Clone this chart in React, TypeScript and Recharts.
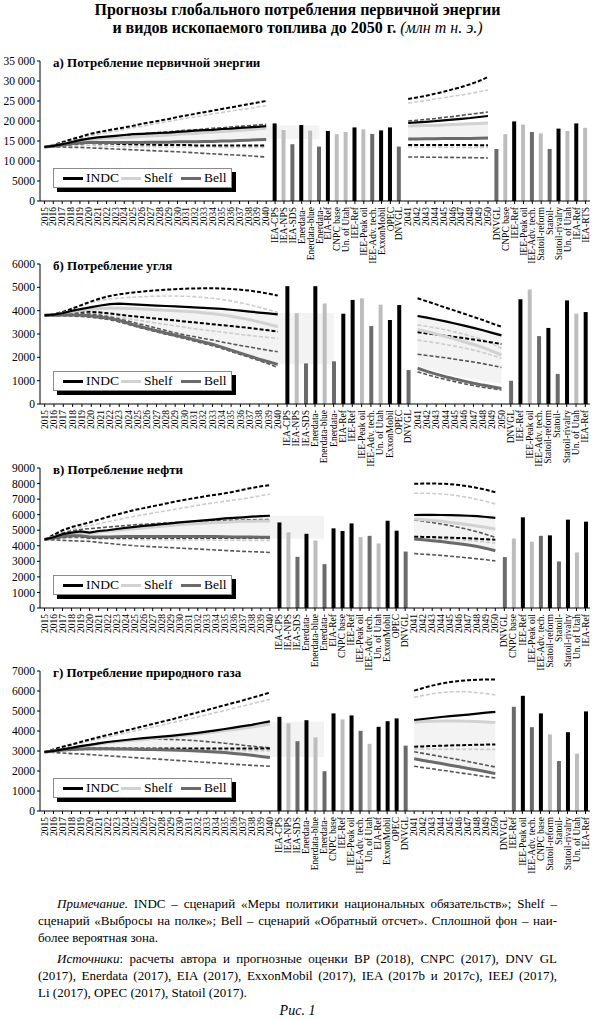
import React from 'react';
import { ComposedChart, XAxis, YAxis, Line, Bar, Area, Cell } from 'recharts';

// Forecasts of global primary energy and fossil fuel consumption to 2050 (Mtoe)

const FONT = '"Liberation Serif", "Times New Roman", serif';

const YEARS_1 = [2015, 2016, 2017, 2018, 2019, 2020, 2021, 2022, 2023, 2024, 2025, 2026, 2027,
  2028, 2029, 2030, 2031, 2032, 2033, 2034, 2035, 2036, 2037, 2038, 2039, 2040];
const YEARS_2 = [2041, 2042, 2043, 2044, 2045, 2046, 2047, 2048, 2049, 2050];

// series values: 2015..2040 then 2041..2050 (36 values each)
// а) primary energy
const A_INDC = [13500, 13800, 14200, 14700, 15200, 15600, 15900, 16100, 16300, 16500, 16700, 16800, 16900, 17000, 17100, 17300, 17400, 17600, 17700, 17800, 18000, 18100, 18300, 18400, 18550, 18700, 19500, 19650, 19800, 19950, 20150, 20350, 20550, 20750, 21000, 21250];
const A_INDC_HI = [13500, 14000, 14700, 15400, 16000, 16700, 17200, 17600, 18000, 18400, 18800, 19300, 19700, 20100, 20500, 21000, 21400, 21800, 22200, 22600, 23000, 23400, 23800, 24200, 24600, 25000, 25500, 25900, 26300, 26800, 27300, 27900, 28500, 29200, 30000, 31000];
const A_INDC_LO = [13500, 13700, 14000, 14200, 14400, 14500, 14400, 14400, 14300, 14200, 14200, 14100, 14100, 14000, 14000, 14000, 14000, 13900, 13900, 13900, 13900, 13900, 13900, 13850, 13850, 13850, 14000, 14000, 14000, 14000, 14000, 14000, 14000, 14000, 13950, 13950];
const A_SHELF = [13500, 13800, 14200, 14600, 15000, 15300, 15500, 15700, 15800, 15900, 16000, 16200, 16300, 16400, 16500, 16700, 16800, 16900, 17100, 17200, 17400, 17500, 17700, 17800, 18000, 18200, 18750, 18800, 18850, 18900, 19000, 19100, 19200, 19300, 19400, 19500];
const A_SHELF_HI = [13500, 13900, 14500, 15100, 15700, 16300, 16700, 17100, 17500, 17900, 18300, 18700, 19100, 19500, 19900, 20300, 20700, 21000, 21400, 21800, 22100, 22500, 22800, 23100, 23500, 23800, 24500, 24800, 25100, 25500, 25800, 26200, 26500, 26900, 27300, 27750];
const A_SHELF_LO = [13500, 13600, 13800, 13900, 14000, 13900, 13800, 13700, 13700, 13600, 13600, 13600, 13600, 13500, 13500, 13500, 13500, 13500, 13500, 13500, 13400, 13400, 13400, 13400, 13400, 13400, 13500, 13500, 13500, 13500, 13450, 13450, 13450, 13400, 13400, 13400];
const A_BELL = [13500, 13700, 14000, 14300, 14500, 14600, 14600, 14600, 14600, 14600, 14600, 14600, 14700, 14700, 14700, 14800, 14800, 14800, 14900, 14900, 15000, 15000, 15100, 15200, 15300, 15400, 15500, 15500, 15550, 15550, 15600, 15600, 15650, 15650, 15700, 15750];
const A_BELL_HI = [13500, 13900, 14400, 14900, 15300, 15600, 15800, 16000, 16200, 16400, 16600, 16800, 17000, 17200, 17300, 17500, 17700, 17800, 18000, 18200, 18300, 18500, 18700, 18800, 19000, 19200, 20000, 20200, 20400, 20600, 20900, 21100, 21400, 21700, 21950, 22250];
const A_BELL_LO = [13500, 13500, 13500, 13400, 13400, 13300, 13200, 13100, 13000, 12900, 12800, 12700, 12600, 12500, 12400, 12300, 12200, 12050, 11900, 11800, 11650, 11550, 11450, 11300, 11150, 11000, 11000, 11000, 10950, 10950, 10900, 10900, 10850, 10850, 10800, 10750];
const A_ZONE_LO = [13500, 13600, 13900, 14100, 14300, 14400, 14500, 14600, 14600, 14700, 14700, 14800, 14800, 14900, 14900, 15000, 15000, 15100, 15100, 15200, 15200, 15300, 15300, 15400, 15400, 15500, 15300, 15300, 15300, 15300, 15300, 15300, 15300, 15300, 15300, 15300];
const A_ZONE_HI = [13500, 13800, 14200, 14700, 15200, 15600, 15900, 16100, 16300, 16500, 16700, 16800, 16900, 17000, 17100, 17300, 17400, 17600, 17700, 17800, 18000, 18100, 18300, 18500, 18700, 18900, 19000, 19100, 19200, 19300, 19400, 19500, 19600, 19700, 19800, 19900];
const A_BARS_1 = ['IEA-CPS', 'IEA-NPS', 'IEA-SDS', 'Enerdata-', 'Enerdata-blue', 'Enerdata-', 'EIA-Ref', 'CNPC base', 'Un. of Utah', 'IEE-Ref', 'IEE-Peak oil', 'IEE-Adv. tech.', 'ExxonMobil', 'OPEC', 'DNVGL'];
const A_VALS_1 = [19400, 17750, 14200, 19000, 17600, 13600, 17500, 16700, 17250, 18400, 17900, 16750, 17650, 18400, 13600];
const A_KINDS_1 = ['I', 'S', 'B', 'I', 'S', 'B', 'I', 'S', 'S', 'I', 'S', 'B', 'I', 'I', 'B'];
const A_BARS_2 = ['DNVGL', 'CNPC base', 'IEE-Ref', 'IEE-Peak oil', 'IEE-Adv. tech.', 'Statoil-reform', 'Statoil-', 'Statoil-rivalry', 'Un. of Utah', 'IEA-Ref', 'IEA-RTS'];
const A_VALS_2 = [13000, 16700, 19900, 19100, 17250, 16900, 13000, 18100, 17500, 19400, 18300];
const A_KINDS_2 = ['B', 'S', 'I', 'S', 'B', 'S', 'B', 'I', 'S', 'I', 'S'];

// б) coal
const B_INDC = [3800, 3830, 3900, 4000, 4080, 4150, 4220, 4280, 4300, 4280, 4260, 4240, 4220, 4200, 4180, 4160, 4140, 4120, 4100, 4080, 4040, 4000, 3960, 3920, 3880, 3840, 3770, 3700, 3620, 3540, 3450, 3360, 3260, 3160, 3050, 2940];
const B_INDC_HI = [3800, 3850, 3950, 4100, 4250, 4400, 4530, 4630, 4700, 4760, 4800, 4840, 4870, 4900, 4920, 4940, 4950, 4960, 4960, 4950, 4930, 4900, 4860, 4800, 4730, 4650, 4530, 4400, 4270, 4130, 4000, 3870, 3730, 3600, 3450, 3310];
const B_INDC_LO = [3800, 3850, 3900, 3950, 3960, 3950, 3920, 3880, 3830, 3780, 3740, 3700, 3660, 3620, 3580, 3540, 3500, 3460, 3420, 3380, 3340, 3300, 3260, 3210, 3160, 3100, 3070, 3020, 2970, 2920, 2870, 2820, 2760, 2700, 2640, 2570];
const B_SHELF = [3800, 3830, 3890, 3960, 4020, 4060, 4090, 4100, 4100, 4090, 4080, 4060, 4040, 4020, 4000, 3980, 3950, 3910, 3870, 3820, 3760, 3690, 3610, 3520, 3420, 3310, 3200, 3100, 3000, 2890, 2780, 2670, 2550, 2430, 2270, 2100];
const B_SHELF_HI = [3800, 3850, 3950, 4080, 4220, 4350, 4450, 4500, 4540, 4570, 4590, 4610, 4620, 4630, 4630, 4620, 4600, 4570, 4530, 4480, 4420, 4340, 4250, 4150, 4040, 3920, 3390, 3330, 3260, 3180, 3090, 2990, 2880, 2760, 2580, 2390];
const B_SHELF_LO = [3800, 3820, 3850, 3870, 3880, 3860, 3820, 3770, 3710, 3650, 3590, 3530, 3470, 3410, 3350, 3290, 3230, 3180, 3130, 3080, 3030, 2980, 2940, 2890, 2850, 2810, 2740, 2680, 2620, 2550, 2480, 2400, 2310, 2210, 2090, 1960];
const B_BELL = [3800, 3800, 3810, 3810, 3800, 3770, 3720, 3670, 3580, 3460, 3340, 3240, 3140, 3040, 2950, 2860, 2760, 2660, 2560, 2440, 2310, 2180, 2050, 1920, 1810, 1700, 1530, 1400, 1280, 1170, 1070, 980, 890, 810, 740, 670];
const B_BELL_HI = [3800, 3820, 3850, 3870, 3870, 3850, 3800, 3730, 3640, 3550, 3450, 3350, 3250, 3150, 3050, 2960, 2890, 2810, 2740, 2660, 2580, 2510, 2440, 2370, 2300, 2240, 2130, 2080, 2030, 1980, 1920, 1860, 1800, 1730, 1650, 1570];
const B_BELL_LO = [3800, 3790, 3780, 3770, 3750, 3720, 3670, 3610, 3520, 3410, 3290, 3190, 3090, 2990, 2900, 2800, 2700, 2600, 2500, 2380, 2250, 2120, 1990, 1860, 1720, 1570, 1380, 1260, 1150, 1050, 960, 870, 790, 720, 660, 600];
const B_ZONE_LO = [3800, 3800, 3800, 3800, 3800, 3770, 3720, 3670, 3580, 3460, 3340, 3240, 3140, 3040, 2950, 2860, 2760, 2660, 2560, 2440, 2310, 2180, 2050, 1920, 1810, 1700, 1650, 1520, 1400, 1300, 1200, 1120, 1050, 980, 920, 870];
const B_ZONE_HI = [3800, 3830, 3900, 4000, 4080, 4150, 4200, 4220, 4200, 4180, 4160, 4140, 4120, 4100, 4080, 4060, 4040, 4020, 4000, 3980, 3960, 3940, 3930, 3920, 3910, 3900, 3850, 3780, 3700, 3620, 3530, 3440, 3350, 3250, 3150, 3050];
const B_BARS_1 = ['IEA-CPS', 'IEA-NPS', 'IEA-SDS', 'Enerdata-', 'Enerdata-blue', 'Enerdata-', 'EIA-Ref', 'IEE-Ref', 'IEE-Peak oil', 'IEE-Adv. tech.', 'Un. of Utah', 'ExxonMobil', 'OPEC', 'DNVGL'];
const B_VALS_1 = [5050, 3890, 1740, 5050, 4310, 1830, 3870, 4460, 4530, 3340, 4260, 3600, 4240, 1460];
const B_KINDS_1 = ['I', 'S', 'B', 'I', 'S', 'B', 'I', 'I', 'S', 'B', 'S', 'I', 'I', 'B'];
const B_BARS_2 = ['DNVGL', 'IEE-Ref', 'IEE-Peak oil', 'IEE-Adv. tech.', 'Statoil-reform', 'Statoil-', 'Statoil-rivalry', 'Un. of Utah', 'IEA-Ref'];
const B_VALS_2 = [1000, 4490, 4910, 2910, 3260, 1290, 4440, 3870, 3940];
const B_KINDS_2 = ['B', 'I', 'S', 'B', 'I', 'B', 'I', 'S', 'I'];

// в) oil
const C_INDC = [4400, 4550, 4750, 4850, 4920, 4850, 4950, 5000, 5080, 5150, 5220, 5280, 5330, 5390, 5440, 5500, 5550, 5600, 5650, 5700, 5760, 5800, 5830, 5870, 5900, 5930, 5980, 5990, 5990, 5980, 5970, 5950, 5930, 5900, 5850, 5790];
const C_INDC_HI = [4400, 4700, 5000, 5200, 5350, 5500, 5680, 5850, 6000, 6150, 6300, 6420, 6540, 6660, 6780, 6900, 7000, 7100, 7200, 7280, 7370, 7480, 7600, 7720, 7820, 7900, 7980, 8000, 8000, 7990, 7960, 7900, 7820, 7720, 7600, 7440];
const C_INDC_LO = [4400, 4480, 4550, 4600, 4600, 4520, 4510, 4510, 4510, 4510, 4510, 4520, 4520, 4520, 4520, 4520, 4520, 4520, 4520, 4520, 4520, 4520, 4520, 4520, 4520, 4520, 4580, 4570, 4560, 4540, 4520, 4500, 4480, 4450, 4420, 4390];
const C_SHELF = [4400, 4550, 4700, 4800, 4850, 4800, 4880, 4950, 5000, 5050, 5100, 5150, 5200, 5250, 5300, 5350, 5400, 5430, 5460, 5500, 5520, 5550, 5570, 5580, 5590, 5600, 5720, 5680, 5630, 5570, 5500, 5430, 5350, 5270, 5180, 5080];
const C_SHELF_HI = [4400, 4650, 4900, 5050, 5200, 5300, 5420, 5540, 5660, 5780, 5900, 6000, 6100, 6200, 6300, 6400, 6500, 6600, 6700, 6780, 6860, 6940, 7020, 7120, 7220, 7330, 7380, 7380, 7360, 7330, 7280, 7200, 7100, 6980, 6850, 6690];
const C_SHELF_LO = [4400, 4450, 4480, 4500, 4480, 4450, 4430, 4420, 4410, 4400, 4400, 4390, 4390, 4380, 4380, 4380, 4370, 4370, 4370, 4360, 4360, 4360, 4350, 4350, 4350, 4350, 4500, 4480, 4460, 4440, 4410, 4380, 4340, 4300, 4240, 4180];
const C_BELL = [4400, 4500, 4600, 4650, 4650, 4560, 4560, 4570, 4580, 4590, 4600, 4600, 4600, 4600, 4600, 4600, 4600, 4600, 4600, 4590, 4580, 4570, 4560, 4560, 4550, 4550, 4430, 4380, 4330, 4270, 4200, 4130, 4050, 3950, 3830, 3680];
const C_BELL_HI = [4400, 4600, 4800, 4950, 5050, 5100, 5150, 5200, 5250, 5300, 5350, 5380, 5420, 5450, 5480, 5510, 5540, 5560, 5590, 5610, 5630, 5650, 5660, 5670, 5680, 5690, 5660, 5580, 5500, 5400, 5300, 5180, 5050, 4900, 4730, 4540];
const C_BELL_LO = [4400, 4380, 4350, 4320, 4300, 4280, 4220, 4160, 4100, 4050, 4000, 3970, 3940, 3910, 3880, 3850, 3820, 3790, 3760, 3730, 3700, 3670, 3640, 3620, 3600, 3570, 3500, 3460, 3420, 3380, 3330, 3280, 3220, 3160, 3100, 3030];
const C_ZONE_LO = [4400, 4450, 4500, 4550, 4550, 4500, 4500, 4500, 4500, 4500, 4500, 4500, 4500, 4500, 4500, 4500, 4500, 4500, 4500, 4480, 4470, 4460, 4450, 4450, 4450, 4450, 4380, 4330, 4280, 4220, 4150, 4080, 4000, 3900, 3800, 3680];
const C_ZONE_HI = [4400, 4550, 4750, 4850, 4920, 4900, 4980, 5040, 5100, 5170, 5240, 5300, 5350, 5400, 5460, 5520, 5570, 5620, 5670, 5720, 5770, 5810, 5840, 5880, 5910, 5930, 5980, 5990, 5990, 5980, 5970, 5950, 5930, 5900, 5850, 5790];
const C_BARS_1 = ['IEA-CPS', 'IEA-NPS', 'IEA-SDS', 'Enerdata-', 'Enerdata-blue', 'Enerdata-', 'EIA-Ref', 'CNPC base', 'IEE-Ref', 'IEE-Peak oil', 'IEE-Adv. tech.', 'Un. of Utah', 'ExxonMobil', 'OPEC', 'DNVGL'];
const C_VALS_1 = [5500, 4860, 3290, 4770, 4340, 2820, 5120, 4950, 5440, 4560, 4640, 4150, 5610, 4970, 3630];
const C_KINDS_1 = ['I', 'S', 'B', 'I', 'S', 'B', 'I', 'I', 'I', 'S', 'B', 'S', 'I', 'I', 'B'];
const C_BARS_2 = ['DNVGL', 'CNPC base', 'IEE-Ref', 'IEE-Peak oil', 'IEE-Adv. tech.', 'Statoil-reform', 'Statoil-', 'Statoil-rivalry', 'Un. of Utah', 'IEA-Ref'];
const C_VALS_2 = [3270, 4470, 5830, 4260, 4640, 4670, 2990, 5680, 3570, 5550];
const C_KINDS_2 = ['B', 'S', 'I', 'S', 'B', 'I', 'B', 'I', 'S', 'I'];

// г) natural gas
const D_INDC = [2950, 3000, 3080, 3160, 3240, 3310, 3380, 3450, 3500, 3550, 3600, 3640, 3680, 3720, 3760, 3810, 3860, 3910, 3970, 4030, 4100, 4170, 4240, 4310, 4400, 4480, 4550, 4600, 4650, 4700, 4740, 4780, 4820, 4870, 4920, 4960];
const D_INDC_HI = [2950, 3080, 3210, 3330, 3450, 3570, 3690, 3800, 3910, 4020, 4130, 4240, 4350, 4460, 4570, 4690, 4810, 4930, 5050, 5170, 5290, 5410, 5530, 5660, 5790, 5920, 6020, 6150, 6270, 6370, 6450, 6500, 6540, 6560, 6580, 6580];
const D_INDC_LO = [2950, 3000, 3050, 3100, 3120, 3130, 3130, 3130, 3130, 3130, 3130, 3130, 3130, 3130, 3130, 3130, 3130, 3130, 3130, 3130, 3130, 3130, 3130, 3130, 3130, 3130, 3210, 3230, 3250, 3260, 3280, 3290, 3300, 3310, 3320, 3330];
const D_SHELF = [2950, 3000, 3070, 3140, 3210, 3280, 3350, 3410, 3460, 3500, 3540, 3580, 3620, 3660, 3700, 3750, 3800, 3850, 3900, 3960, 4020, 4080, 4140, 4200, 4270, 4350, 4440, 4470, 4490, 4500, 4500, 4500, 4490, 4470, 4450, 4420];
const D_SHELF_HI = [2950, 3060, 3170, 3280, 3390, 3500, 3600, 3700, 3800, 3900, 4000, 4100, 4200, 4300, 4400, 4500, 4600, 4700, 4810, 4920, 5030, 5140, 5250, 5360, 5470, 5590, 5680, 5780, 5860, 5920, 5960, 5970, 5960, 5920, 5870, 5800];
const D_SHELF_LO = [2950, 2980, 3010, 3030, 3040, 3050, 3050, 3050, 3050, 3050, 3050, 3050, 3040, 3040, 3040, 3040, 3040, 3030, 3030, 3030, 3030, 3030, 3020, 3020, 3020, 3020, 3100, 3100, 3100, 3090, 3090, 3090, 3080, 3080, 3080, 3080];
const D_BELL = [2950, 3000, 3050, 3080, 3100, 3110, 3110, 3110, 3100, 3100, 3090, 3080, 3070, 3060, 3050, 3040, 3020, 3000, 2980, 2950, 2920, 2880, 2840, 2790, 2730, 2670, 2610, 2530, 2450, 2370, 2290, 2210, 2130, 2050, 1960, 1870];
const D_BELL_HI = [2950, 3000, 3080, 3160, 3240, 3310, 3380, 3440, 3490, 3530, 3560, 3580, 3590, 3590, 3580, 3560, 3540, 3510, 3470, 3430, 3390, 3340, 3290, 3240, 3200, 3160, 2960, 2880, 2800, 2720, 2640, 2560, 2470, 2380, 2290, 2200];
const D_BELL_LO = [2950, 2930, 2900, 2870, 2850, 2820, 2790, 2760, 2730, 2700, 2670, 2640, 2610, 2580, 2550, 2520, 2490, 2460, 2430, 2400, 2370, 2340, 2310, 2280, 2260, 2240, 2240, 2170, 2110, 2040, 1980, 1910, 1850, 1780, 1720, 1650];
const D_ZONE_LO = [2950, 2990, 3030, 3060, 3080, 3080, 3070, 3060, 3050, 3040, 3020, 3000, 2980, 2960, 2940, 2920, 2900, 2880, 2860, 2840, 2820, 2800, 2780, 2760, 2730, 2700, 2600, 2500, 2420, 2340, 2260, 2180, 2100, 2030, 1950, 1870];
const D_ZONE_HI = [2950, 3000, 3080, 3160, 3240, 3310, 3380, 3450, 3500, 3550, 3600, 3640, 3680, 3720, 3760, 3810, 3860, 3910, 3970, 4030, 4100, 4170, 4240, 4310, 4390, 4460, 4460, 4470, 4480, 4480, 4490, 4490, 4490, 4480, 4470, 4460];
const D_BARS_1 = ['IEA-CPS', 'IEA-NPS', 'IEA-SDS', 'Enerdata-', 'Enerdata-blue', 'Enerdata-', 'CNPC base', 'IEE-Ref', 'IEE-Peak oil', 'IEE-Adv. tech.', 'Un. of Utah', 'EIA-Ref', 'ExxonMobil', 'OPEC', 'DNVGL'];
const D_VALS_1 = [4710, 4380, 3490, 4540, 3680, 1990, 4880, 4580, 4780, 4010, 3360, 4210, 4490, 4630, 3270];
const D_KINDS_1 = ['I', 'S', 'B', 'I', 'S', 'B', 'I', 'S', 'I', 'B', 'S', 'I', 'I', 'I', 'B'];
const D_BARS_2 = ['DNVGL', 'IEE-Ref', 'IEE-Peak oil', 'IEE-Adv. tech.', 'CNPC base', 'Statoil-reform', 'Statoil-', 'Statoil-rivalry', 'Un. of Utah', 'IEA-Ref'];
const D_VALS_2 = [null, 5210, 5760, 4190, 4880, 3830, 2500, 3940, 2870, 4980];
const D_KINDS_2 = ['B', 'B', 'I', 'B', 'I', 'S', 'B', 'I', 'S', 'I'];

// the shaded zone carries on past 2040 behind the first few bars
const ZONE_BAR_SPAN = 6;

type Kind = 'I' | 'S' | 'B';
const BAR_FILL: Record<string, string> = { I: '#000000', S: '#bdbdbd', B: '#6b6b6b' };

const SERIES_KEYS = ['SHELF_LO', 'SHELF_HI', 'BELL_LO', 'BELL_HI', 'INDC_LO', 'INDC_HI', 'SHELF', 'BELL', 'INDC'] as const;
type SeriesKey = (typeof SERIES_KEYS)[number];

const LINE_STYLE: Record<SeriesKey, { stroke: string; width: number; dash?: string }> = {
  SHELF_LO: { stroke: '#cccccc', width: 1.6, dash: '4 2' },
  SHELF_HI: { stroke: '#cccccc', width: 1.6, dash: '4 2' },
  BELL_LO: { stroke: '#555555', width: 1.6, dash: '4 2' },
  BELL_HI: { stroke: '#555555', width: 1.6, dash: '4 2' },
  INDC_LO: { stroke: '#000000', width: 2, dash: '4 2' },
  INDC_HI: { stroke: '#000000', width: 2, dash: '4 2' },
  SHELF: { stroke: '#d2d2d2', width: 3 },
  BELL: { stroke: '#6a6a6a', width: 3 },
  INDC: { stroke: '#000000', width: 2.2 },
};

interface PanelDef {
  title: string;
  top: number;
  yMax: number;
  yTicks: number[];
  series: Record<SeriesKey, number[]>;
  zoneLo: number[];
  zoneHi: number[];
  bars1: string[];
  vals1: (number | null)[];
  kinds1: string[];
  bars2: string[];
  vals2: (number | null)[];
  kinds2: string[];
}

const PANELS: PanelDef[] = [
  {
    title: 'а) Потребление первичной энергии', top: 61, yMax: 35000,
    yTicks: [0, 5000, 10000, 15000, 20000, 25000, 30000, 35000],
    series: { INDC: A_INDC, INDC_HI: A_INDC_HI, INDC_LO: A_INDC_LO, SHELF: A_SHELF, SHELF_HI: A_SHELF_HI, SHELF_LO: A_SHELF_LO, BELL: A_BELL, BELL_HI: A_BELL_HI, BELL_LO: A_BELL_LO },
    zoneLo: A_ZONE_LO, zoneHi: A_ZONE_HI,
    bars1: A_BARS_1, vals1: A_VALS_1, kinds1: A_KINDS_1, bars2: A_BARS_2, vals2: A_VALS_2, kinds2: A_KINDS_2,
  },
  {
    title: 'б) Потребление угля', top: 264, yMax: 6000,
    yTicks: [0, 1000, 2000, 3000, 4000, 5000, 6000],
    series: { INDC: B_INDC, INDC_HI: B_INDC_HI, INDC_LO: B_INDC_LO, SHELF: B_SHELF, SHELF_HI: B_SHELF_HI, SHELF_LO: B_SHELF_LO, BELL: B_BELL, BELL_HI: B_BELL_HI, BELL_LO: B_BELL_LO },
    zoneLo: B_ZONE_LO, zoneHi: B_ZONE_HI,
    bars1: B_BARS_1, vals1: B_VALS_1, kinds1: B_KINDS_1, bars2: B_BARS_2, vals2: B_VALS_2, kinds2: B_KINDS_2,
  },
  {
    title: 'в) Потребление нефти', top: 468, yMax: 9000,
    yTicks: [0, 1000, 2000, 3000, 4000, 5000, 6000, 7000, 8000, 9000],
    series: { INDC: C_INDC, INDC_HI: C_INDC_HI, INDC_LO: C_INDC_LO, SHELF: C_SHELF, SHELF_HI: C_SHELF_HI, SHELF_LO: C_SHELF_LO, BELL: C_BELL, BELL_HI: C_BELL_HI, BELL_LO: C_BELL_LO },
    zoneLo: C_ZONE_LO, zoneHi: C_ZONE_HI,
    bars1: C_BARS_1, vals1: C_VALS_1, kinds1: C_KINDS_1, bars2: C_BARS_2, vals2: C_VALS_2, kinds2: C_KINDS_2,
  },
  {
    title: 'г) Потребление природного газа', top: 671, yMax: 7000,
    yTicks: [0, 1000, 2000, 3000, 4000, 5000, 6000, 7000],
    series: { INDC: D_INDC, INDC_HI: D_INDC_HI, INDC_LO: D_INDC_LO, SHELF: D_SHELF, SHELF_HI: D_SHELF_HI, SHELF_LO: D_SHELF_LO, BELL: D_BELL, BELL_HI: D_BELL_HI, BELL_LO: D_BELL_LO },
    zoneLo: D_ZONE_LO, zoneHi: D_ZONE_HI,
    bars1: D_BARS_1, vals1: D_VALS_1, kinds1: D_KINDS_1, bars2: D_BARS_2, vals2: D_VALS_2, kinds2: D_KINDS_2,
  },
];

const PLOT_H = 140;
const AXIS_H = 70;

function buildRows(p: PanelDef) {
  const rows: any[] = [];
  const yearRow = (y: number, k: number) => {
    const r: any = { label: String(y), bar: null, kind: null, zone: [p.zoneLo[k], p.zoneHi[k]] };
    SERIES_KEYS.forEach((s) => (r[s] = p.series[s][k]));
    return r;
  };
  const last = YEARS_1.length - 1;
  YEARS_1.forEach((y, k) => rows.push(yearRow(y, k)));
  p.bars1.forEach((name, j) =>
    rows.push({
      label: name, bar: p.vals1[j], kind: p.kinds1[j],
      zone: j < ZONE_BAR_SPAN ? [p.zoneLo[last], p.zoneHi[last]] : null,
    })
  );
  YEARS_2.forEach((y, k) => rows.push(yearRow(y, YEARS_1.length + k)));
  p.bars2.forEach((name, j) => rows.push({ label: name, bar: p.vals2[j], kind: p.kinds2[j], zone: null }));
  return rows.map((r, i) => ({ ...r, i }));
}

const fmtTick = (v: number) =>
  v >= 10000 ? `${Math.floor(v / 1000)}\u00a0${String(v % 1000).padStart(3, '0')}` : String(v);

function Legend({ top }: { top: number }) {
  const items = [
    { name: 'INDC', color: '#000000', x: 9 },
    { name: 'Shelf', color: '#d2d2d2', x: 67 },
    { name: 'Bell', color: '#6a6a6a', x: 127 },
  ];
  return (
    <div
      style={{
        position: 'absolute', left: 53, top, width: 177, height: 18,
        border: '1px solid #8a8a8a', background: '#fff', boxShadow: '4px 4px 0 #000',
        fontFamily: FONT, fontSize: 13.5,
      }}
    >
      {items.map((it) => (
        <React.Fragment key={it.name}>
          <span style={{ position: 'absolute', left: it.x, top: 8, width: 20, height: 3, background: it.color }} />
          <span style={{ position: 'absolute', left: it.x + 23, top: 1, lineHeight: '16px' }}>{it.name}</span>
        </React.Fragment>
      ))}
    </div>
  );
}

function Panel({ p }: { p: PanelDef }) {
  const rows = buildRows(p);
  const renderTick = (t: any) => {
    const label = rows[t.payload.value]?.label ?? '';
    const y = t.y + 1;
    return (
      <text
        x={t.x} y={y} transform={`rotate(-90 ${t.x} ${y})`} textAnchor="end" dy="0.33em"
        fontSize={9.5} fontFamily={FONT} fill="#000"
      >
        {label}
      </text>
    );
  };
  return (
    <>
      <div style={{ position: 'absolute', left: 0, top: p.top - 10 }}>
        <ComposedChart width={595} height={10 + PLOT_H + AXIS_H} data={rows} margin={{ top: 10, right: 5, bottom: 0, left: 0 }}>
          <XAxis
            dataKey="i" type="category" interval={0} height={AXIS_H} tickSize={3}
            axisLine={{ stroke: '#000' }} tickLine={{ stroke: '#000' }} tick={renderTick}
          />
          <YAxis
            type="number" domain={[0, p.yMax]} ticks={p.yTicks} interval={0} width={40}
            tickSize={3} tickMargin={2} axisLine={{ stroke: '#000' }} tickLine={{ stroke: '#000' }}
            tickFormatter={fmtTick} tick={{ fill: '#000', fontSize: 11.5, fontFamily: FONT }}
          />
          <Area
            dataKey="zone" type="linear" stroke="none" fill="#f3f3f3" fillOpacity={1}
            connectNulls={false} isAnimationActive={false} activeDot={false}
          />
          <Bar dataKey="bar" barSize={4} isAnimationActive={false}>
            {rows.map((r) => (
              <Cell key={r.i} fill={BAR_FILL[r.kind as Kind] ?? '#000'} />
            ))}
          </Bar>
          {SERIES_KEYS.map((k) => (
            <Line
              key={k} dataKey={k} type="linear" stroke={LINE_STYLE[k].stroke} strokeWidth={LINE_STYLE[k].width}
              strokeDasharray={LINE_STYLE[k].dash} dot={false} activeDot={false}
              connectNulls={false} isAnimationActive={false}
            />
          ))}
        </ComposedChart>
      </div>
      <div style={{ position: 'absolute', left: 53, top: p.top - 6, fontFamily: FONT, fontWeight: 'bold', fontSize: 13, lineHeight: '16px' }}>
        {p.title}
      </div>
      <Legend top={p.top + PLOT_H - 33} />
    </>
  );
}

const lineStyle = (top: number, extra: React.CSSProperties = {}): React.CSSProperties => ({
  position: 'absolute', left: 38, width: 519, top, lineHeight: '16px', fontSize: 13,
  fontFamily: FONT, whiteSpace: 'nowrap', ...extra,
});
const justified: React.CSSProperties = { textAlign: 'justify', textAlignLast: 'justify', whiteSpace: 'normal' };

export default function App() {
  return (
    <div style={{ position: 'absolute', left: 0, top: 0, width: 595, height: 1019, background: '#fff', fontFamily: FONT, color: '#000' }}>
      <div style={{ position: 'absolute', left: 0, top: 1, width: 595, textAlign: 'center', fontWeight: 'bold', fontSize: 16, lineHeight: '18px' }}>
        <div>Прогнозы глобального потребления первичной энергии</div>
        <div>
          и видов ископаемого топлива до 2050 г.{' '}
          <span style={{ fontWeight: 'normal', fontStyle: 'italic' }}>(млн т н. э.)</span>
        </div>
      </div>

      {PANELS.map((p) => (
        <Panel key={p.title} p={p} />
      ))}

      <div style={lineStyle(896, { ...justified, left: 57, width: 500 })}>
        <i>Примечание.</i> INDC – сценарий «Меры политики национальных обязательств»; Shelf –
      </div>
      <div style={lineStyle(913, justified)}>
        сценарий «Выбросы на полке»; Bell – сценарий «Обратный отсчет». Сплошной фон – наи-
      </div>
      <div style={lineStyle(930)}>более вероятная зона.</div>
      <div style={lineStyle(951, { ...justified, left: 57, width: 500 })}>
        <i>Источники</i>: расчеты автора и прогнозные оценки BP (2018), CNPC (2017), DNV GL
      </div>
      <div style={lineStyle(968, justified)}>
        (2017), Enerdata (2017), EIA (2017), ExxonMobil (2017), IEA (2017b и 2017c), IEEJ (2017),
      </div>
      <div style={lineStyle(985)}>Li (2017), OPEC (2017), Statoil (2017).</div>
      <div style={{ position: 'absolute', left: 0, width: 595, top: 1003, textAlign: 'center', fontStyle: 'italic', fontSize: 14, lineHeight: '16px' }}>
        Рис. 1
      </div>
    </div>
  );
}
